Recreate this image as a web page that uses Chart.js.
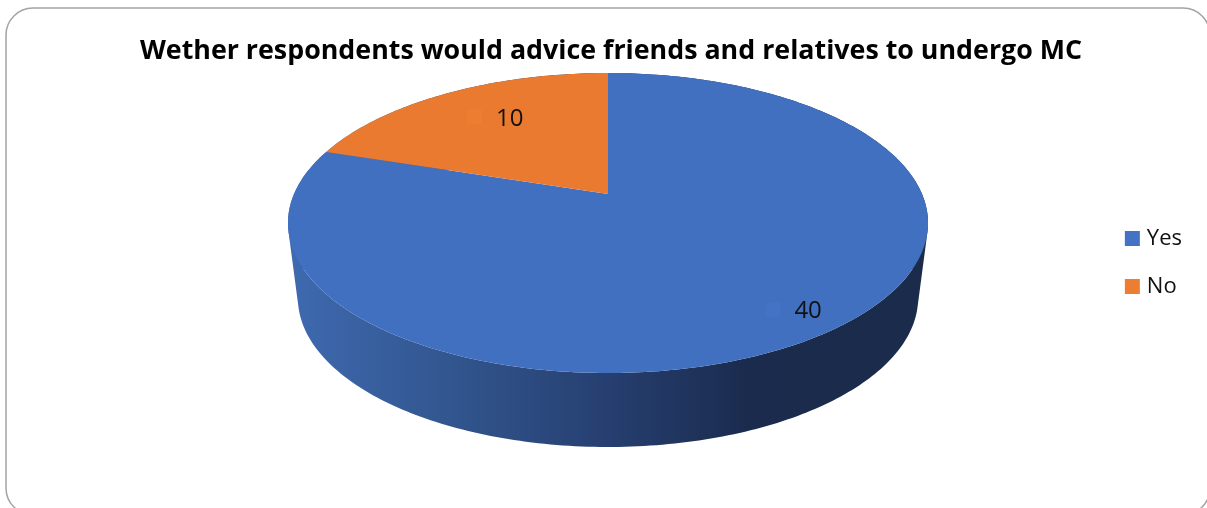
<!DOCTYPE html>
<html>
<head>
<meta charset="utf-8">
<title>Advice to friends and relatives</title>
<style>
    html, body { margin: 0; padding: 0; background: #ffffff; overflow: hidden; }
    canvas { display: block; }
</style>
<script src="https://cdn.jsdelivr.net/npm/chart.js@4/dist/chart.umd.min.js"></script>
</head>
<body>
<canvas id="advice-chart" width="1207" height="508"></canvas>
<script>
const chartTitle = 'Wether respondents would advice friends and relatives to undergo MC';
const categories = ['Yes', 'No'];
const responses = [40, 10];
const keyColors = ['#4472c4', '#ed7d31'];
const faceColors = ['#4170c0', '#ea7a30'];

const FONT_FAMILY = '"Open Sans", sans-serif';

// Perspective of the tilted disc: maps a point on the unit circle to the screen
const disc = { cx: 608, apexY: 194, spreadX: 314, riseY: -106.9, tilt: 0.1933 };
// The lower rim is the upper one pushed down and narrowed a little
const rim = { narrow: 0.969, squash: 0.9933, topMidY: 223, baseMidY: 298 };
// How far along each slice's middle angle its value label sits
const labelReach = [0.86, 0.73];
const labelShift = [-6, 0];

function projectDisc(angle, reach = 1) {
    const u = reach * Math.cos(angle);
    const v = -reach * Math.sin(angle);
    const w = 1 + disc.tilt * v;
    return { x: disc.cx + disc.spreadX * u / w, y: (disc.riseY * v + disc.apexY) / w };
}

function toRim(p) {
    return {
        x: disc.cx + (p.x - disc.cx) * rim.narrow,
        y: rim.baseMidY + (p.y - rim.topMidY) * rim.squash
    };
}

function arcPoints(arc) {
    const { startAngle, endAngle } = arc.getProps(['startAngle', 'endAngle'], true);
    const steps = Math.ceil((endAngle - startAngle) * 60);
    const points = [];
    for (let i = 0; i <= steps; i++) {
        points.push(projectDisc(startAngle + (endAngle - startAngle) * i / steps));
    }
    return points;
}

function tracePath(ctx, points) {
    points.forEach((p, i) => (i === 0 ? ctx.moveTo(p.x, p.y) : ctx.lineTo(p.x, p.y)));
}

function signedArea(points) {
    return points.reduce((sum, p, i) => {
        const q = points[(i + 1) % points.length];
        return sum + p.x * q.y - q.x * p.y;
    }, 0);
}

// Rounded frame around the whole chart, running off the right and bottom edges
const framePlugin = {
    id: 'frame',
    beforeDraw(chart) {
        const { ctx } = chart;
        ctx.save();
        ctx.fillStyle = '#ffffff';
        ctx.fillRect(0, 0, chart.width, chart.height);
        ctx.strokeStyle = '#a3a3a3';
        ctx.lineWidth = 1.5;
        ctx.beginPath();
        ctx.roundRect(6, 8, 1204, 507, 27);
        ctx.stroke();
        ctx.restore();
    }
};

// Replaces the flat arcs with a 3D disc built from the arc angles Chart.js computed
const disc3dPlugin = {
    id: 'disc3d',
    beforeDatasetDraw(chart, args) {
        const { ctx } = chart;
        const arcs = args.meta.data;

        const sideFill = ctx.createLinearGradient(288, 0, 928, 0);
        sideFill.addColorStop(0, '#3f6ab0');
        sideFill.addColorStop(0.25, '#32568f');
        sideFill.addColorStop(0.5, '#263f70');
        sideFill.addColorStop(0.72, '#1a2b4d');
        sideFill.addColorStop(1, '#1a2b4c');

        ctx.save();
        ctx.fillStyle = sideFill;
        arcs.forEach((arc) => {
            // quads share one path and one winding, so the strip does not cancel where it folds
            const top = arcPoints(arc);
            ctx.beginPath();
            for (let i = 1; i < top.length; i++) {
                const quad = [top[i - 1], top[i], toRim(top[i]), toRim(top[i - 1])];
                tracePath(ctx, signedArea(quad) < 0 ? quad.reverse() : quad);
                ctx.closePath();
            }
            ctx.fill();
        });
        arcs.forEach((arc, i) => {
            const apex = { x: disc.cx, y: disc.apexY };
            ctx.beginPath();
            tracePath(ctx, [apex].concat(arcPoints(arc)));
            ctx.closePath();
            ctx.fillStyle = faceColors[i];
            ctx.fill();
        });
        ctx.restore();
        return false;
    },
    afterDatasetsDraw(chart) {
        const { ctx } = chart;
        const arcs = chart.getDatasetMeta(0).data;
        ctx.save();
        ctx.font = '24px ' + FONT_FAMILY;
        ctx.textBaseline = 'middle';
        ctx.textAlign = 'left';
        arcs.forEach((arc, i) => {
            const { startAngle, endAngle } = arc.getProps(['startAngle', 'endAngle'], true);
            const spot = projectDisc((startAngle + endAngle) / 2, labelReach[i]);
            const x = spot.x + labelShift[i];
            ctx.fillStyle = keyColors[i];
            ctx.fillRect(x - 20, spot.y - 8, 15, 15);
            ctx.fillStyle = '#111111';
            ctx.fillText(String(responses[i]), x + 9, spot.y + 1.5);
        });
        ctx.restore();
    }
};

new Chart(document.getElementById('advice-chart'), {
    type: 'pie',
    data: {
        labels: categories,
        datasets: [{
            data: responses,
            backgroundColor: keyColors,
            // only seen in the legend, where it grows the 7px box to a 15px square
            borderColor: keyColors,
            borderWidth: 8
        }]
    },
    options: {
        responsive: false,
        animation: false,
        devicePixelRatio: 1,
        layout: { padding: { left: 30, right: 15, top: 17, bottom: 0 } },
        plugins: {
            title: {
                display: true,
                text: chartTitle,
                color: '#000000',
                font: { family: FONT_FAMILY, size: 26.8, weight: 'bold' },
                padding: { top: 18, bottom: 34 }
            },
            legend: {
                position: 'right',
                labels: {
                    boxWidth: 7,
                    boxHeight: 7,
                    padding: 26,
                    color: '#111111',
                    font: { family: FONT_FAMILY, size: 22 }
                }
            },
            tooltip: { enabled: false }
        }
    },
    plugins: [framePlugin, disc3dPlugin]
});
</script>
</body>
</html>
